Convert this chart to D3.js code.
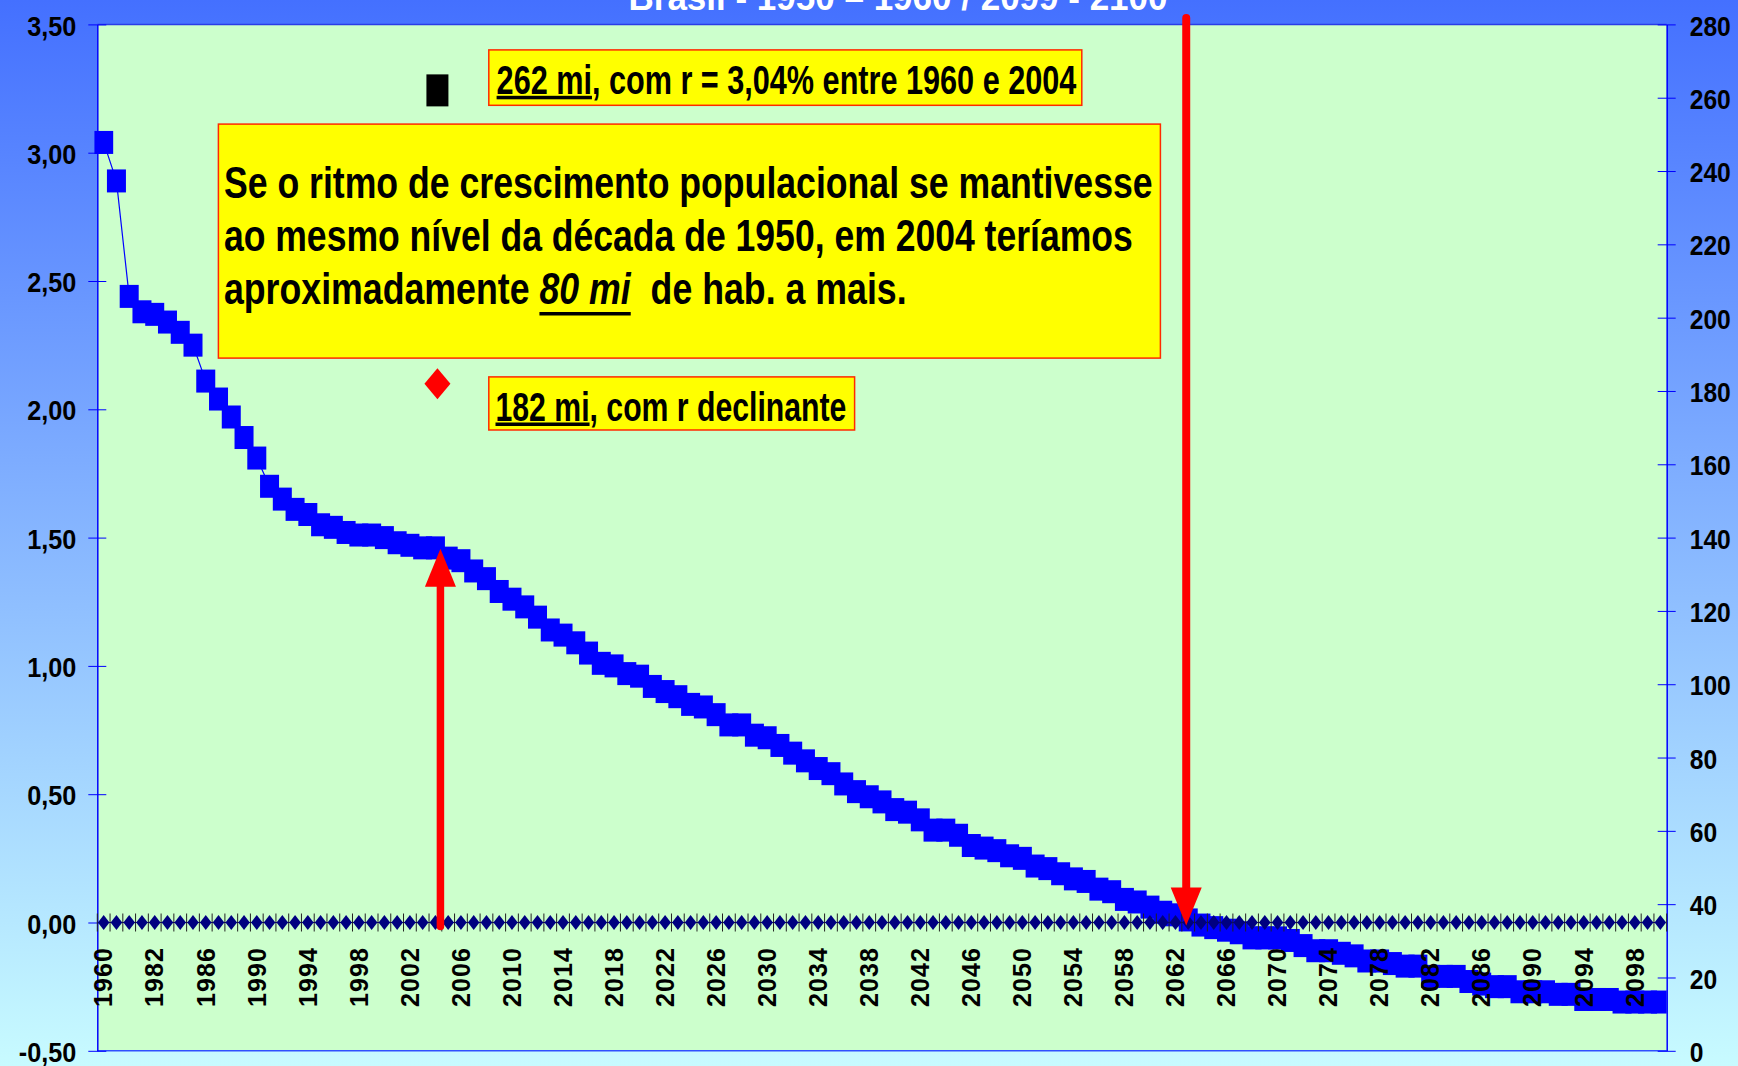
<!DOCTYPE html>
<html lang='pt'>
<head>
  <meta charset='UTF-8'>
  <title>Brasil - taxa de crescimento populacional</title>
  <style>
  body { margin: 0; }
  svg { display: block; }
  text { font-family: 'Liberation Sans', Arial, sans-serif; font-weight: bold; }
  </style>
  <script src='https://d3js.org/d3.v7.min.js'></script>
</head>
<body>
  <script>

  // categories: 1960, 1970 and then every year 1980 - 2100
  var years = [1960, 1970,
    1980, 1981, 1982, 1983, 1984, 1985, 1986, 1987, 1988, 1989,
    1990, 1991, 1992, 1993, 1994, 1995, 1996, 1997, 1998, 1999,
    2000, 2001, 2002, 2003, 2004, 2005, 2006, 2007, 2008, 2009,
    2010, 2011, 2012, 2013, 2014, 2015, 2016, 2017, 2018, 2019,
    2020, 2021, 2022, 2023, 2024, 2025, 2026, 2027, 2028, 2029,
    2030, 2031, 2032, 2033, 2034, 2035, 2036, 2037, 2038, 2039,
    2040, 2041, 2042, 2043, 2044, 2045, 2046, 2047, 2048, 2049,
    2050, 2051, 2052, 2053, 2054, 2055, 2056, 2057, 2058, 2059,
    2060, 2061, 2062, 2063, 2064, 2065, 2066, 2067, 2068, 2069,
    2070, 2071, 2072, 2073, 2074, 2075, 2076, 2077, 2078, 2079,
    2080, 2081, 2082, 2083, 2084, 2085, 2086, 2087, 2088, 2089,
    2090, 2091, 2092, 2093, 2094, 2095, 2096, 2097, 2098, 2099,
    2100];

  // growth rate (% a.a.), left axis
  var rate = [3.04, 2.89,
    2.44, 2.38, 2.37, 2.34, 2.30, 2.25, 2.11, 2.04, 1.97, 1.89,
    1.81, 1.70, 1.65, 1.61, 1.59, 1.55, 1.54, 1.52, 1.51, 1.51,
    1.50, 1.48, 1.47, 1.46, 1.46, 1.42, 1.41, 1.37, 1.34, 1.29,
    1.26, 1.23, 1.19, 1.14, 1.12, 1.09, 1.05, 1.01, 1.00, 0.97,
    0.96, 0.92, 0.90, 0.88, 0.85, 0.84, 0.81, 0.77, 0.77, 0.73,
    0.72, 0.69, 0.66, 0.63, 0.60, 0.58, 0.54, 0.51, 0.49, 0.47,
    0.44, 0.43, 0.40, 0.36, 0.36, 0.34, 0.30, 0.29, 0.28, 0.26,
    0.25, 0.22, 0.21, 0.19, 0.17, 0.16, 0.13, 0.12, 0.09, 0.08,
    0.06, 0.04, 0.03, 0.01, -0.01, -0.02, -0.03, -0.04, -0.06, -0.06,
    -0.06, -0.07, -0.09, -0.11, -0.11, -0.12, -0.13, -0.15, -0.15, -0.16,
    -0.17, -0.17, -0.21, -0.21, -0.21, -0.23, -0.24, -0.25, -0.25, -0.27,
    -0.27, -0.27, -0.28, -0.28, -0.30, -0.30, -0.30, -0.31, -0.31, -0.31,
    -0.31];

  // zero reference series
  var zeroLine = [0, 0,
    0, 0, 0, 0, 0, 0, 0, 0, 0, 0,
    0, 0, 0, 0, 0, 0, 0, 0, 0, 0,
    0, 0, 0, 0, 0, 0, 0, 0, 0, 0,
    0, 0, 0, 0, 0, 0, 0, 0, 0, 0,
    0, 0, 0, 0, 0, 0, 0, 0, 0, 0,
    0, 0, 0, 0, 0, 0, 0, 0, 0, 0,
    0, 0, 0, 0, 0, 0, 0, 0, 0, 0,
    0, 0, 0, 0, 0, 0, 0, 0, 0, 0,
    0, 0, 0, 0, 0, 0, 0, 0, 0, 0,
    0, 0, 0, 0, 0, 0, 0, 0, 0, 0,
    0, 0, 0, 0, 0, 0, 0, 0, 0, 0,
    0, 0, 0, 0, 0, 0, 0, 0, 0, 0,
    0];

  var tickYears = [1960, 1982, 1986, 1990, 1994, 1998, 2002, 2006, 2010, 2014,
    2018, 2022, 2026, 2030, 2034, 2038, 2042, 2046, 2050, 2054, 2058, 2062,
    2066, 2070, 2074, 2078, 2082, 2086, 2090, 2094, 2098];

  var leftTicks = [-0.5, 0, 0.5, 1, 1.5, 2, 2.5, 3, 3.5];
  var rightTicks = [0, 20, 40, 60, 80, 100, 120, 140, 160, 180, 200, 220, 240, 260, 280];

  // population in 2004 (mi), right axis
  var popYear = 2004;
  var popConstant = 262;
  var popDeclining = 182;
  var zeroYear = 2063;

  var title = 'Brasil - 1950 \u2013 1960 / 2099 - 2100';

  var width = 1738, height = 1066;
  var plot = { left: 97.3, right: 1666.7, top: 24.4, bottom: 1050.8 };

  var svg = d3.select('body').append('svg')
    .attr('width', width)
    .attr('height', height);

  var defs = svg.append('defs');
  var grad = defs.append('linearGradient').attr('id', 'bg')
    .attr('x1', 0).attr('y1', 0).attr('x2', 0).attr('y2', 1);
  grad.append('stop').attr('offset', 0).attr('stop-color', '#4470ff');
  grad.append('stop').attr('offset', 1).attr('stop-color', '#c8fbff');

  defs.append('clipPath').attr('id', 'clip')
    .append('rect')
    .attr('x', plot.left - 3).attr('y', 0)
    .attr('width', plot.right - plot.left + 3).attr('height', height);

  svg.append('rect').attr('width', width).attr('height', height).attr('fill', 'url(#bg)');

  var x = d3.scaleBand().domain(years).range([plot.left, plot.right]);
  var y = d3.scaleLinear().domain([-0.5, 3.5]).range([plot.bottom, plot.top]);
  var y2 = d3.scaleLinear().domain([0, 280]).range([plot.bottom, plot.top]);
  var bw = x.bandwidth();
  var cx = function (yr) { return x(yr) + bw / 2; };

  var pt = d3.formatLocale({ decimal: ',', thousands: '.', grouping: [3], currency: ['R$', ''], minus: '-' });
  var fmt = pt.format('.2f');

  // squeeze text horizontally (the original uses a narrow font)
  function squeeze(sel, f) {
    sel.each(function () {
      var w = this.getComputedTextLength();
      d3.select(this).attr('textLength', w * f).attr('lengthAdjust', 'spacingAndGlyphs');
    });
  }

  // plot area

  svg.append('rect')
    .attr('x', plot.left).attr('y', plot.top)
    .attr('width', plot.right - plot.left).attr('height', plot.bottom - plot.top)
    .attr('fill', '#ccffcc');

  svg.append('line')
    .attr('x1', plot.left).attr('x2', plot.right)
    .attr('y1', plot.top).attr('y2', plot.top)
    .attr('stroke', '#2a3ce6').attr('stroke-width', 1.5);

  svg.append('line')
    .attr('x1', plot.left).attr('x2', plot.right)
    .attr('y1', plot.bottom).attr('y2', plot.bottom)
    .attr('stroke', '#3050ff').attr('stroke-width', 1.5);

  // left axis

  var gl = svg.append('g')
    .attr('transform', 'translate(' + plot.left + ',0)')
    .call(d3.axisLeft(y).tickValues(leftTicks).tickFormat(fmt).tickSize(9).tickSizeOuter(0).tickPadding(12));
  gl.select('.domain').attr('stroke', '#0000ff').attr('stroke-width', 1.5);
  gl.selectAll('.tick line').attr('x1', 9).attr('stroke', '#0000ff');
  gl.selectAll('.tick text')
    .attr('font-size', 28).attr('fill', '#000').attr('dy', '0.38em')
    .attr('font-family', 'Liberation Sans, Arial, sans-serif');
  squeeze(gl.selectAll('.tick text'), 0.9);

  // right axis

  var gr = svg.append('g')
    .attr('transform', 'translate(' + plot.right + ',0)')
    .call(d3.axisRight(y2).tickValues(rightTicks).tickSize(9).tickSizeOuter(0).tickPadding(14));
  gr.select('.domain').attr('stroke', '#0000ff').attr('stroke-width', 1.5);
  gr.selectAll('.tick line').attr('x1', -9).attr('stroke', '#0000ff');
  gr.selectAll('.tick text')
    .attr('font-size', 28).attr('fill', '#000').attr('dy', '0.38em')
    .attr('font-family', 'Liberation Sans, Arial, sans-serif');
  squeeze(gr.selectAll('.tick text'), 0.88);

  // growth rate series

  var series = svg.append('g').attr('clip-path', 'url(#clip)');

  series.append('path')
    .datum(rate)
    .attr('fill', 'none')
    .attr('stroke', '#0000ff')
    .attr('stroke-width', 1.2)
    .attr('d', d3.line().x(function (d, i) { return cx(years[i]); }).y(function (d) { return y(d); }));

  series.selectAll('.sq')
    .data(rate)
    .enter()
    .append('rect')
    .attr('class', 'sq')
    .attr('x', function (d, i) { return cx(years[i]) - 9.5; })
    .attr('y', function (d) { return y(d) - 11.5; })
    .attr('width', 19)
    .attr('height', 23)
    .attr('fill', '#0000ff');

  // zero series (diamonds) and category ticks

  var y0 = y(0);

  svg.append('path')
    .datum(zeroLine)
    .attr('fill', 'none')
    .attr('stroke', '#000080')
    .attr('stroke-width', 1.2)
    .attr('d', d3.line().x(function (d, i) { return cx(years[i]); }).y(function (d) { return y(d); }));

  svg.selectAll('.catTick')
    .data(years.concat(['end']))
    .enter()
    .append('line')
    .attr('class', 'catTick')
    .attr('x1', function (d) { return d === 'end' ? plot.right : x(d); })
    .attr('x2', function (d) { return d === 'end' ? plot.right : x(d); })
    .attr('y1', y0 - 9)
    .attr('y2', y0 + 9)
    .attr('stroke', '#222')
    .attr('stroke-width', 1);

  svg.selectAll('.dia')
    .data(zeroLine)
    .enter()
    .append('path')
    .attr('class', 'dia')
    .attr('transform', function (d, i) { return 'translate(' + cx(years[i]) + ',' + y(d) + ')'; })
    .attr('d', 'M0,-7.5L5.8,0L0,7.5L-5.8,0Z')
    .attr('fill', '#000080');

  // category labels

  svg.selectAll('.xlab')
    .data(tickYears)
    .enter()
    .append('text')
    .attr('class', 'xlab')
    .attr('transform', function (d) { return 'translate(' + cx(d) + ',948) rotate(-90)'; })
    .attr('text-anchor', 'end')
    .attr('dy', '0.35em')
    .attr('font-size', 25)
    .attr('fill', '#000')
    .attr('textLength', 59)
    .attr('lengthAdjust', 'spacing')
    .text(function (d) { return d; });

  // arrows

  function arrow(xc, yFrom, yTip, shaft, headW, headL, dir) {
    var base = yTip - dir * headL;
    svg.append('line')
      .attr('x1', xc).attr('x2', xc)
      .attr('y1', yFrom).attr('y2', base)
      .attr('stroke', '#ff0000').attr('stroke-width', shaft)
      .attr('stroke-linecap', 'round');
    svg.append('path')
      .attr('d', 'M' + (xc - headW / 2) + ',' + base + 'L' + (xc + headW / 2) + ',' + base + 'L' + xc + ',' + yTip + 'Z')
      .attr('fill', '#ff0000');
  }

  arrow(cx(popYear) + 5, y0 + 4, y(rate[years.indexOf(popYear)]) + 1, 7.5, 31, 38, -1);
  arrow(cx(zeroYear) - 2, 18, y0 + 3, 8, 31, 38, 1);

  // population markers (right axis)

  svg.append('rect')
    .attr('x', cx(popYear) + 2 - 11).attr('y', y2(popConstant) - 16)
    .attr('width', 22).attr('height', 32)
    .attr('fill', '#000');

  svg.append('path')
    .attr('transform', 'translate(' + (cx(popYear) + 2) + ',' + y2(popDeclining) + ')')
    .attr('d', 'M0,-15.5L13,0L0,15.5L-13,0Z')
    .attr('fill', '#ff0000');

  // text boxes

  function box(x0, y0b, w, h) {
    svg.append('rect')
      .attr('x', x0).attr('y', y0b).attr('width', w).attr('height', h)
      .attr('fill', '#ffff00').attr('stroke', '#ff2a00').attr('stroke-width', 1.5);
  }

  function label(x0, baseline, size, parts, targetW, uOff, uThick) {
    var g = svg.append('g');
    var t = g.append('text')
      .attr('font-size', size)
      .attr('fill', '#000')
      .style('white-space', 'pre');
    parts.forEach(function (p) {
      t.append('tspan')
        .attr('font-style', p.italic ? 'italic' : null)
        .text(p.t);
    });
    var natural = t.node().getComputedTextLength();
    var s = targetW / natural;
    g.attr('transform', 'translate(' + x0 + ',' + baseline + ') scale(' + s + ',1)');
    var idx = 0;
    parts.forEach(function (p) {
      if (p.u) {
        var start = idx === 0 ? 0 : t.node().getSubStringLength(0, idx);
        var len = t.node().getSubStringLength(idx, p.t.length);
        g.append('rect')
          .attr('x', start).attr('y', uOff)
          .attr('width', len).attr('height', uThick)
          .attr('fill', '#000');
      }
      idx += p.t.length;
    });
  }

  box(488.8, 49.9, 593, 55.4);
  label(496.6, 94.3, 40, [
    { t: '262 mi', u: true },
    { t: ', com r = 3,04% entre 1960 e 2004' }
  ], 580, 1.5, 3.5);

  box(218.4, 124.1, 942, 234);
  label(223.9, 198, 45, [{ t: 'Se o ritmo de crescimento populacional se mantivesse' }], 929, 0, 0);
  label(223.9, 251, 45, [{ t: 'ao mesmo n\u00edvel da d\u00e9cada de 1950, em 2004 ter\u00edamos' }], 909, 0, 0);
  label(223.9, 303.5, 45, [
    { t: 'aproximadamente ' },
    { t: '80 mi', italic: true, u: true },
    { t: '  de hab. a mais.' }
  ], 683, 8.5, 3.5);

  box(488.8, 376.9, 365.8, 53.1);
  label(495.5, 420.5, 40, [
    { t: '182 mi', u: true },
    { t: ', com r declinante' }
  ], 351, 2, 3.5);

  // title, cut off at the top like the original

  svg.append('text')
    .attr('x', 898).attr('y', 9.5)
    .attr('text-anchor', 'middle')
    .attr('font-size', 36)
    .attr('fill', '#fff')
    .attr('textLength', 539)
    .attr('lengthAdjust', 'spacingAndGlyphs')
    .text(title);
  </script>
</body>
</html>
